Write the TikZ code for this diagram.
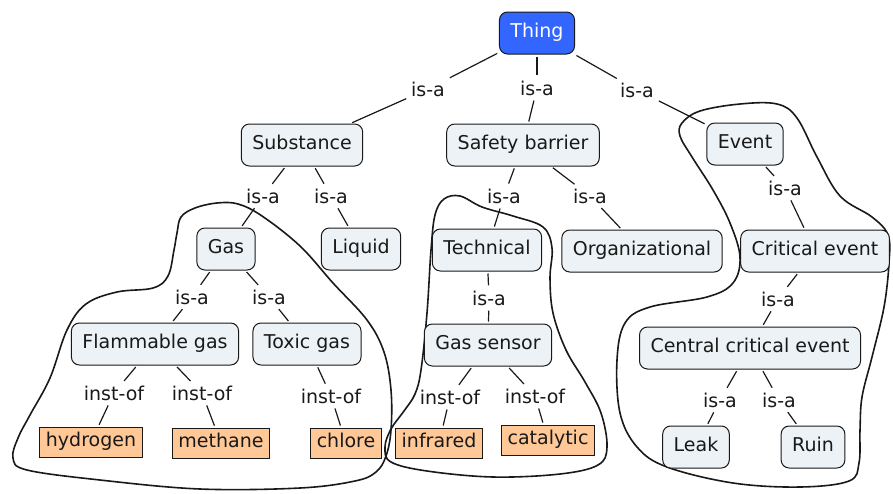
\documentclass[tikz,border=0pt]{standalone}
\usepackage{fontspec}
\setmainfont{DejaVu Sans}
\definecolor{conceptfill}{RGB}{236,242,245}
\definecolor{thingblue}{RGB}{51,102,255}
\definecolor{instfill}{RGB}{255,200,150}
\definecolor{ink}{RGB}{25,25,25}

\begin{document}
\begin{tikzpicture}
[x=1pt, y=-1pt, font=\fontsize{19}{22}\selectfont, text=ink,
 concept/.style={draw=ink, line width=1pt, rounded corners=8pt, fill=conceptfill,
   minimum height=42pt, inner xsep=11pt, text height=14pt, text depth=4.5pt},
 inst/.style={draw=ink, line width=1pt, fill=instfill, minimum height=30pt,
   inner xsep=6pt, text height=14pt, text depth=4.5pt},
 rel/.style={inner sep=3pt},
 link/.style={draw=ink, line width=1.2pt, shorten <=2pt, shorten >=2pt},
 blob/.style={draw=ink, line width=1.6pt}]

\useasboundingbox (0,0) rectangle (893,493);

% groups
\draw[blob] plot[smooth cycle, tension=0.6] coordinates {
  (177,233) (181,217) (195,208) (217,203) (238,204) (262,216) (300,246)
  (333,283) (367,320) (384,352) (391,390) (391,430) (386,456) (376,472)
  (355,481) (300,488) (200,489) (100,480) (27,470) (13,458) (18,438)
  (30,415) (50,378) (67,330) (86,304) (117,292) (153,288) (168,276) (174,250)};
\draw[blob] plot[smooth cycle, tension=0.6] coordinates {
  (435,215) (444,199) (460,196) (482,207) (513,216) (543,227) (552,248)
  (550,278) (553,313) (566,350) (585,382) (601,413) (607,447) (598,465)
  (560,474) (493,477) (427,471) (391,462) (385,447) (391,429) (404,411)
  (415,394) (421,370) (427,313) (431,250)};
\draw[blob] plot[smooth cycle, tension=0.6] coordinates {
  (682,123) (700,111) (740,104) (777,104) (797,118) (817,157) (840,196)
  (872,217) (888,235) (889,263) (884,307) (872,357) (862,397) (860,430)
  (859,463) (849,481) (800,487) (733,483) (667,467) (637,447) (620,413)
  (617,360) (625,323) (650,307) (707,297) (733,283) (740,257) (730,223)
  (713,190) (692,157) (680,136)};

% concepts
\node[concept, fill=thingblue, text=white] (thing) at (537,33) {Thing};

\node[concept] (sub) at (302,145) {Substance};
\node[concept] (sb) at (523,145) {Safety barrier};
\node[concept] (ev) at (745,144) {Event};

\node[concept] (gas) at (226,249) {Gas};
\node[concept] (liq) at (361,249) {Liquid};
\node[concept] (tech) at (487,250) {Technical};
\node[concept] (org) at (642,251) {Organizational};
\node[concept] (cev) at (815,251) {Critical event};

\node[concept] (fg) at (155,344) {Flammable gas};
\node[concept] (tg) at (307,344) {Toxic gas};
\node[concept] (gs) at (488,345) {Gas sensor};
\node[concept] (ccev) at (750,348) {Central critical event};

\node[concept] (leak) at (696,447) {Leak};
\node[concept] (ruin) at (813,447) {Ruin};

% instances
\node[inst] (hyd) at (91,442) {hydrogen};
\node[inst] (meth) at (221,443) {methane};
\node[inst] (chl) at (346,443) {chlore};
\node[inst] (inf) at (439,443) {infrared};
\node[inst] (cat) at (548,440) {catalytic};

% relations
\node[rel] (r1) at (428,89) {is-a};
\node[rel] (r2) at (537,88) {is-a};
\node[rel] (r3) at (637,90) {is-a};
\node[rel] (r4) at (263,196) {is-a};
\node[rel] (r5) at (331,196) {is-a};
\node[rel] (r6) at (504,196) {is-a};
\node[rel] (r7) at (590,196) {is-a};
\node[rel] (r8) at (785,188) {is-a};
\node[rel] (r9) at (192,297) {is-a};
\node[rel] (r10) at (269,297) {is-a};
\node[rel] (r11) at (489,298) {is-a};
\node[rel] (r12) at (778,299) {is-a};
\node[rel] (r13) at (114,393) {inst-of};
\node[rel] (r14) at (202,393) {inst-of};
\node[rel] (r15) at (331,396) {inst-of};
\node[rel] (r16) at (450,397) {inst-of};
\node[rel] (r17) at (535,396) {inst-of};
\node[rel] (r18) at (720,400) {is-a};
\node[rel] (r19) at (779,400) {is-a};

\draw[link] (thing) -- (r1);  \draw[link] (r1) -- (sub);
\draw[link] (thing) -- (r2);  \draw[link] (r2) -- (sb);
\draw[link] (thing) -- (r3);  \draw[link] (r3) -- (ev);
\draw[link] (sub) -- (r4);    \draw[link] (r4) -- (gas);
\draw[link] (sub) -- (r5);    \draw[link] (r5) -- (liq);
\draw[link] (sb) -- (r6);     \draw[link] (r6) -- (tech);
\draw[link] (sb) -- (r7);     \draw[link] (r7) -- (org);
\draw[link] (ev) -- (r8);     \draw[link] (r8) -- (cev);
\draw[link] (gas) -- (r9);    \draw[link] (r9) -- (fg);
\draw[link] (gas) -- (r10);   \draw[link] (r10) -- (tg);
\draw[link] (tech) -- (r11);  \draw[link] (r11) -- (gs);
\draw[link] (cev) -- (r12);   \draw[link] (r12) -- (ccev);
\draw[link] (fg) -- (r13);    \draw[link] (r13) -- (hyd);
\draw[link] (fg) -- (r14);    \draw[link] (r14) -- (meth);
\draw[link] (tg) -- (r15);    \draw[link] (r15) -- (chl);
\draw[link] (gs) -- (r16);    \draw[link] (r16) -- (inf);
\draw[link] (gs) -- (r17);    \draw[link] (r17) -- (cat);
\draw[link] (ccev) -- (r18);  \draw[link] (r18) -- (leak);
\draw[link] (ccev) -- (r19);  \draw[link] (r19) -- (ruin);

\end{tikzpicture}
\end{document}
